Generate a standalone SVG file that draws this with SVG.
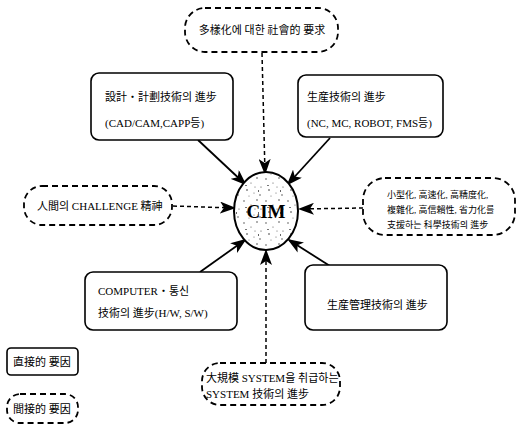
<svg xmlns="http://www.w3.org/2000/svg" width="518" height="426" viewBox="0 0 518 426">
  <style>
    .t { font-family: "Liberation Serif", "Noto Sans CJK KR", serif; font-size: 11px; fill: #000; }
    .ts { font-family: "Liberation Serif", "Noto Sans CJK KR", serif; font-size: 9px; fill: #000; }
    .solid { fill: #fff; stroke: #000; stroke-width: 1.6; }
    .dash { fill: #fff; stroke: #000; stroke-width: 1.8; stroke-dasharray: 6 4; }
    .c { stroke: #000; stroke-width: 1.8; fill: none; marker-end: url(#ah); }
    .cd { stroke: #000; stroke-width: 1.5; fill: none; stroke-dasharray: 4 3; marker-end: url(#ah); }
  </style>
  <defs>
    <marker id="ah" markerUnits="userSpaceOnUse" markerWidth="16" markerHeight="12" refX="14" refY="6" orient="auto">
      <path d="M0,0 L16,6 L0,12 L4,6 Z" fill="#000"/>
    </marker>
    <pattern id="speckle" patternUnits="userSpaceOnUse" width="22" height="22">
      <rect width="22" height="22" fill="#fff"/>
      <circle cx="2" cy="3" r="0.7" fill="#333"/>
      <circle cx="9" cy="7" r="0.6" fill="#555"/>
      <circle cx="15" cy="2" r="0.7" fill="#222"/>
      <circle cx="19" cy="11" r="0.6" fill="#444"/>
      <circle cx="5" cy="14" r="0.8" fill="#333"/>
      <circle cx="12" cy="17" r="0.6" fill="#666"/>
      <circle cx="18" cy="19" r="0.7" fill="#333"/>
      <circle cx="7" cy="20" r="0.5" fill="#555"/>
      <circle cx="13" cy="11" r="0.5" fill="#444"/>
      <rect x="3" y="9" width="2" height="1" fill="#777"/>
      <rect x="16" y="14" width="1" height="2" fill="#666"/>
    </pattern>
  </defs>

  <!-- connectors -->
  <g id="connectors">
    <line class="cd" x1="262" y1="53" x2="265" y2="173"/>
    <line class="c" x1="198" y1="140" x2="245" y2="184"/>
    <line class="c" x1="330" y1="138" x2="288" y2="184"/>
    <line class="cd" x1="173" y1="206" x2="234" y2="208"/>
    <line class="cd" x1="363" y1="208" x2="300" y2="209"/>
    <line class="c" x1="200" y1="272" x2="245" y2="240"/>
    <line class="c" x1="330" y1="266" x2="289" y2="240"/>
    <line class="cd" x1="266" y1="363" x2="266" y2="251"/>
  </g>

  <!-- center -->
  <g id="cim">
    <ellipse cx="266" cy="211" rx="32" ry="39" fill="url(#speckle)" stroke="#000" stroke-width="2"/>
    <text x="266" y="218" text-anchor="middle" style="font-family: 'Liberation Serif', serif; font-size: 19px; font-weight: bold;">CIM</text>
  </g>

  <g id="social-demand">
    <rect class="dash" x="185" y="8" width="153" height="44" rx="20"/>
    <text class="t" x="262" y="34" text-anchor="middle">多樣化에 대한 社會的 要求</text>
  </g>

  <g id="design-tech">
    <rect class="solid" x="91" y="73" width="142" height="67" rx="8"/>
    <text class="t" x="105" y="101">設計・計劃技術의 進步</text>
    <text class="t" x="105" y="127">(CAD/CAM,CAPP등)</text>
  </g>

  <g id="production-tech">
    <rect class="solid" x="298" y="75" width="145" height="62" rx="8"/>
    <text class="t" x="307" y="101">生産技術의 進步</text>
    <text class="t" x="307" y="127">(NC, MC, ROBOT, FMS등)</text>
  </g>

  <g id="human-challenge">
    <rect class="dash" x="24" y="186" width="148" height="39" rx="18"/>
    <text class="t" x="37" y="210">人間의 CHALLENGE 精神</text>
  </g>

  <g id="supporting-tech">
    <rect class="dash" x="363" y="178" width="152" height="57" rx="22"/>
    <text class="ts" x="387" y="198">小型化, 高速化, 高精度化,</text>
    <text class="ts" x="387" y="213">複雜化, 高信賴性, 省力化를</text>
    <text class="ts" x="387" y="228">支援하는 科學技術의 進步</text>
  </g>

  <g id="computer-tech">
    <rect class="solid" x="85" y="272" width="152" height="58" rx="8"/>
    <text class="t" x="98" y="295">COMPUTER・통신</text>
    <text class="t" x="98" y="317">技術의 進步(H/W, S/W)</text>
  </g>

  <g id="management-tech">
    <rect class="solid" x="305" y="265" width="142" height="65" rx="8"/>
    <text class="t" x="327" y="309">生産管理技術의 進步</text>
  </g>

  <g id="large-system">
    <rect class="dash" x="202" y="363" width="138" height="42" rx="18"/>
    <text class="t" x="206" y="382">大規模 SYSTEM을 취급하는</text>
    <text class="t" x="206" y="398">SYSTEM 技術의 進步</text>
  </g>

  <g id="legend-direct">
    <rect class="solid" x="7" y="348" width="71" height="27" rx="4"/>
    <text class="t" x="13" y="366">直接的 要因</text>
  </g>

  <g id="legend-indirect">
    <rect class="dash" x="7" y="394" width="71" height="29" rx="13"/>
    <text class="t" x="13" y="413">間接的 要因</text>
  </g>
</svg>
